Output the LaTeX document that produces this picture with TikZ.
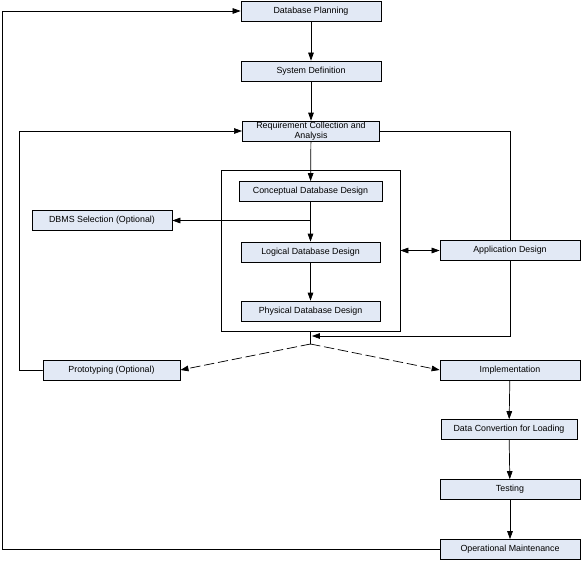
\documentclass[tikz,border=0pt]{standalone}
\usepackage{fontspec}
\setmainfont{Liberation Sans}
\usetikzlibrary{arrows.meta, positioning}
\definecolor{boxfill}{RGB}{226,233,245}

\begin{document}
\begin{tikzpicture}[x=0.025cm, y=-0.025cm, line cap=round, line width=0.5pt,
        >={Triangle[length=2mm, width=1.4mm]},
        stage/.style={draw, fill=boxfill, minimum width=3.5cm, minimum height=0.5cm,
            inner sep=0pt, align=center, font=\fontsize{6.3}{7}\selectfont}]
        \useasboundingbox (0,0) rectangle (581,561);

        % main column
        \node[stage] (plan) at (311,11) {Database Planning};
        \node[stage] (sysdef) at (311,71) {System Definition};
        \node[stage, minimum width=3.43cm] (req) at (311,131) {Requirement Collection and\\Analysis};

        % design block
        \node[draw, minimum width=4.475cm, minimum height=4.025cm, inner sep=0pt] (design) at (310.5,250.5) {};
        \node[stage, minimum width=3.57cm] (concept) at (310.5,191.5) {Conceptual Database Design};
        \node[stage, minimum width=3.48cm] (logical) at (310.5,252) {Logical Database Design};
        \node[stage, minimum width=3.48cm] (physical) at (310.5,311) {Physical Database Design};

        % side boxes
        \node[stage] (dbms) at (102,220.5) {DBMS Selection (Optional)};
        \node[stage] (app) at (510,250.5) {Application Design};
        \node[stage, minimum width=3.43cm] (proto) at (111.5,370) {Prototyping (Optional)};

        % right column
        \node[stage] (impl) at (510,370) {Implementation};
        \node[stage, minimum width=3.4cm] (convert) at (509,429.5) {Data Convertion for Loading};
        \node[stage] (testing) at (510,489.5) {Testing};
        \node[stage] (maint) at (510,549.5) {Operational Maintenance};

        \coordinate (split) at (310.5,220.5);
        \coordinate (fork) at (310.5,344);
        \coordinate (merge) at (310.5,336);
        \coordinate (corner) at (2,549.5);

        \draw[->] (plan) -- (sysdef);
        \draw[->] (sysdef) -- (req);
        \draw[->] (req) -- (concept);
        \draw[->] (concept) -- (logical);
        \draw[->] (split) -- (dbms.east);
        \draw[->] (logical) -- (physical);
        \draw[<->] (design.east) -- (app.west);
        \draw (app.north) |- (req.east);
        \draw[->] (app.south) |- ([xshift=1pt]merge);
        \draw (design.south) -- (fork);
        \draw[->, dash pattern=on 7pt off 3pt] (fork) -- (proto.east);
        \draw[->, dash pattern=on 7pt off 3pt] (fork) -- (impl.west);
        \draw[->] (proto.west) -- ++(-23,0) |- (req.west);
        \draw[->] (impl) -- (convert);
        \draw[->] (convert) -- (testing);
        \draw[->] (testing) -- (maint);
        \draw[->] (maint.west) -- (corner) |- (plan.west);
    \end{tikzpicture}
\end{document}
